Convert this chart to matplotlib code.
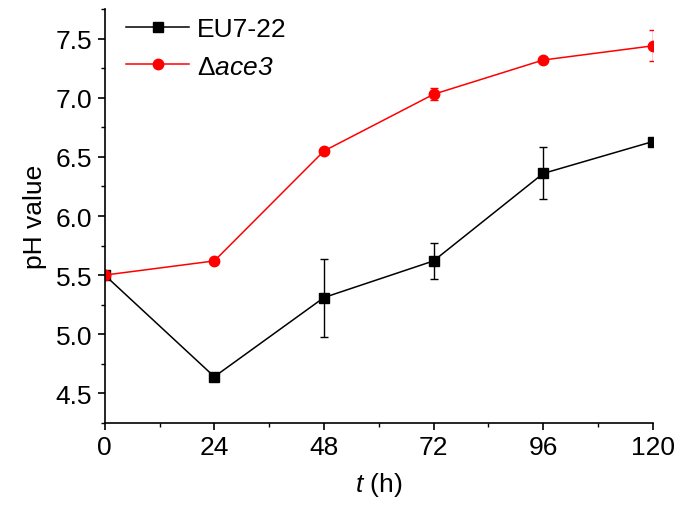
import matplotlib
matplotlib.use("Agg")
import matplotlib.pyplot as plt
from matplotlib.lines import Line2D
from matplotlib.ticker import MultipleLocator

plt.rcParams["font.family"] = ["Liberation Sans", "DejaVu Sans"]
plt.rcParams["mathtext.fontset"] = "custom"
# math text is only used for the italic parts, so digits go italic too
plt.rcParams["mathtext.it"] = "Liberation Sans:italic"
plt.rcParams["mathtext.rm"] = "Liberation Sans:italic"

# sampling times (h)
time_h = [0, 24, 48, 72, 96, 120]

# EU7-22 (wild type)
wt_ph = [5.50, 4.64, 5.31, 5.62, 6.36, 6.63]
wt_err = [0.0, 0.0, 0.33, 0.15, 0.22, 0.03]

# delta ace3
ace3_ph = [5.50, 5.62, 6.55, 7.03, 7.32, 7.44]
ace3_err = [0.0, 0.0, 0.0, 0.05, 0.0, 0.13]

fig = plt.figure(figsize=(6.8, 5.1), dpi=100)
ax = fig.add_axes([0.154, 0.169, 0.806, 0.811])

wt_style = dict(color="black", marker="s", markersize=7, linewidth=1.1)
ace3_style = dict(color="red", marker="o", markersize=7.5, linewidth=1.1)

ax.errorbar(time_h, wt_ph, yerr=wt_err, capsize=3, elinewidth=1, capthick=1, **wt_style)
ax.errorbar(time_h, ace3_ph, yerr=ace3_err, capsize=3, elinewidth=1, capthick=1, **ace3_style)

ax.set_xlim(0, 120)
ax.set_ylim(4.25, 7.75)
ax.xaxis.set_major_locator(MultipleLocator(24))
ax.xaxis.set_minor_locator(MultipleLocator(12))
ax.yaxis.set_minor_locator(MultipleLocator(0.25))
ax.set_yticks([4.5, 5.0, 5.5, 6.0, 6.5, 7.0, 7.5])

for side in ("top", "right"):
    ax.spines[side].set_visible(False)
for side in ("left", "bottom"):
    ax.spines[side].set_linewidth(1.2)
ax.tick_params(which="major", direction="out", length=5, width=1.2, labelsize=19, pad=4)
ax.tick_params(which="minor", direction="out", length=3, width=1.0)

ax.set_xlabel(r"$t$ (h)", fontsize=19, labelpad=8)
ax.set_ylabel("pH value", fontsize=19, labelpad=6)

# legend without the error bar glyphs
handles = [Line2D([], [], **wt_style), Line2D([], [], **ace3_style)]
labels = ["EU7-22", r"Δ$\mathit{ace3}$"]
ax.legend(handles, labels, loc="upper left", frameon=False, fontsize=19, handlelength=2.4,
          handletextpad=0.3, borderaxespad=0.3, labelspacing=0.5,
          bbox_to_anchor=(0.005, 1.025))

plt.savefig("out.png", dpi=100)
